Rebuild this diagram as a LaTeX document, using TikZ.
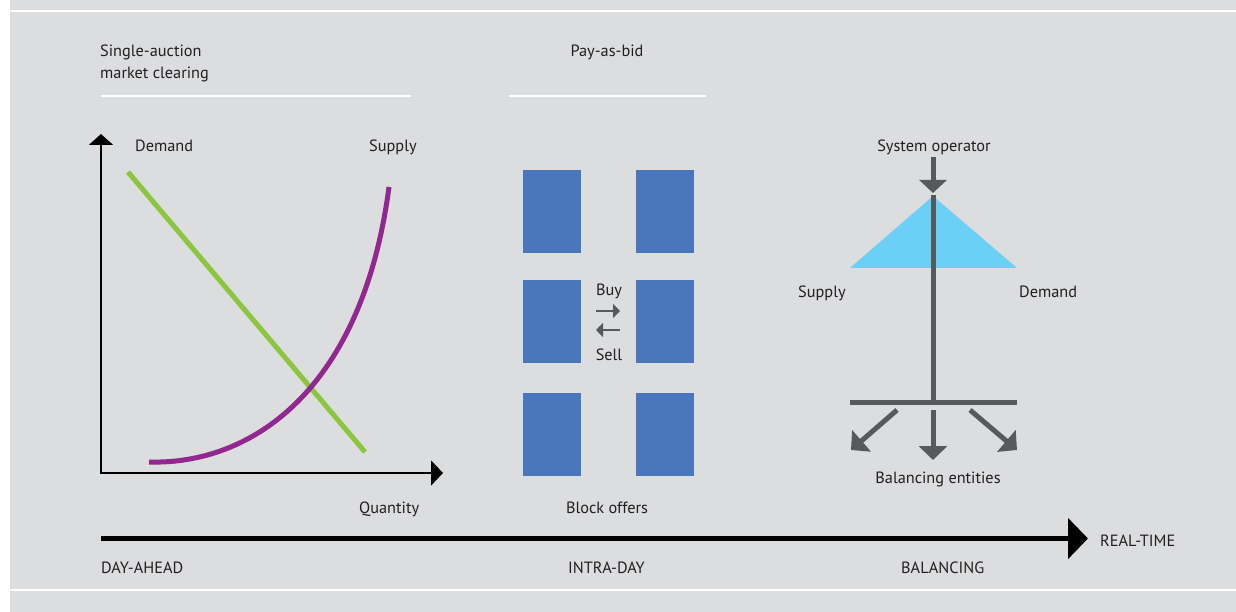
\documentclass[tikz,border=0pt]{standalone}
\usepackage{fontspec}
\setmainfont{PT Sans}
\usetikzlibrary{arrows.meta}
\definecolor{bg}{HTML}{DCDDDF}
\definecolor{txt}{HTML}{231F20}
\definecolor{demgreen}{HTML}{8CC63F}
\definecolor{suppurple}{HTML}{92278F}
\definecolor{blockblue}{HTML}{4A77BB}
\definecolor{cyanT}{HTML}{6CCFF6}
\definecolor{opgray}{HTML}{58595B}
\begin{document}
\begin{tikzpicture}[x=1pt,y=-1pt,
  lbl/.style={font=\fontsize{16.3}{19}\selectfont, text=txt, inner sep=0pt},
  rule/.style={draw=white, line width=1.5},
  blockbox/.style={fill=blockblue, draw=none, minimum width=58pt, minimum height=83pt, inner sep=0pt},
  grayline/.style={draw=opgray, line width=5},
  grayarrow/.style={draw=opgray, line width=5, -{Triangle[length=14pt,width=28pt]}, opgray},
  smallarrow/.style={draw=opgray, line width=2.6, -{Triangle[length=7pt,width=14pt]}, opgray}
]
\useasboundingbox (0,0) rectangle (1236,612);
\fill[white] (0,0) rectangle (1236,612);
\fill[bg] (10,0) rectangle (1236,612);
\draw[white, line width=2] (10,11.5) -- (1236,11.5);
\draw[white, line width=2] (10,590) -- (1236,590);

% titles
\node[lbl, anchor=base west] (t1) at (100,57) {Single-auction};
\node[lbl, anchor=base west] (t2) at (100,79) {market clearing};
\node[lbl, anchor=base] (t3) at (607,57) {Pay-as-bid};
\coordinate (r1a) at (101,96); \coordinate (r1b) at (411,96);
\coordinate (r2a) at (509,96); \coordinate (r2b) at (706,96);
\draw[rule] (r1a) -- (r1b);
\draw[rule] (r2a) -- (r2b);

% market clearing chart
\coordinate (O) at (101,473);
\coordinate (ytip) at (101,134);
\coordinate (xtip) at (443,473);
\draw[line width=2, line join=miter, {Triangle[length=11pt,width=24pt]}-{Triangle[length=12pt,width=25pt]}] (ytip) -- (O) -- (xtip);
\node[lbl, anchor=base west] (dem) at (135,152) {Demand};
\node[lbl, anchor=base west] (sup) at (369,152) {Supply};
\node[lbl, anchor=base west] (qty) at (359,513) {Quantity};
\coordinate (dA) at (128,172);
\coordinate (dB) at (365,452);
\draw[demgreen, line width=5] (dA) -- (dB);
\coordinate (sA) at (149,462);
\coordinate (sB) at (389,187);
\draw[suppurple, line width=5] (sA) .. controls (250,465) and (362,392) .. (sB);

% pay-as-bid blocks
\node[blockbox] (b11) at (552,211.5) {};
\node[blockbox] (b12) at (665,211.5) {};
\node[blockbox] (b21) at (552,321.5) {};
\node[blockbox] (b22) at (665,321.5) {};
\node[blockbox] (b31) at (552,434.5) {};
\node[blockbox] (b32) at (665,434.5) {};
\node[lbl, anchor=base] (buy) at (609,295) {Buy};
\node[lbl, anchor=base] (sell) at (609,360) {Sell};
\coordinate (ba) at (596,311); \coordinate (bb) at (620,311);
\coordinate (sa) at (620,330); \coordinate (sb) at (596,330);
\draw[smallarrow] (ba) -- (bb);
\draw[smallarrow] (sa) -- (sb);
\node[lbl, anchor=base] (blk) at (607,513) {Block offers};

% balancing
\node[lbl, anchor=base] (so) at (934,152) {System operator};
\coordinate (soA) at (933,157);
\coordinate (soB) at (933,193);
\draw[grayarrow, -{Triangle[length=13pt,width=27pt]}] (soA) -- (soB);
\coordinate (apex) at (933,196);
\coordinate (tl) at (850,268);
\coordinate (tr) at (1017,268);
\fill[cyanT] (apex) -- (tl) -- (tr) -- cycle;
\coordinate (hub) at (933,402);
\coordinate (barL) at (850,402);
\coordinate (barR) at (1017,402);
\draw[grayline] (933,195) -- (hub);
\draw[grayline] (barL) -- (barR);
\node[lbl, anchor=base west] (bsup) at (798,297) {Supply};
\node[lbl, anchor=base west] (bdem) at (1019,297) {Demand};
\coordinate (cA) at (933,410); \coordinate (cB) at (933,460);
\coordinate (lA) at (897,410); \coordinate (lB) at (851,450);
\coordinate (rA) at (970,410); \coordinate (rB) at (1017,450);
\draw[grayarrow] (cA) -- (cB);
\draw[grayarrow] (lA) -- (lB);
\draw[grayarrow] (rA) -- (rB);
\node[lbl, anchor=base] (bal) at (938,483) {Balancing entities};

% timeline
\coordinate (tlA) at (101,538.5);
\coordinate (tlB) at (1088,538.5);
\draw[black, line width=5.5, -{Triangle[length=20pt,width=40pt]}] (tlA) -- (tlB);
\node[lbl, anchor=base west] (rt) at (1100,546) {REAL-TIME};
\node[lbl, anchor=base west] (da) at (101,573) {DAY-AHEAD};
\node[lbl, anchor=base west] (id) at (568,573) {INTRA-DAY};
\node[lbl, anchor=base west] (bl) at (901,573) {BALANCING};
\end{tikzpicture}
\end{document}
